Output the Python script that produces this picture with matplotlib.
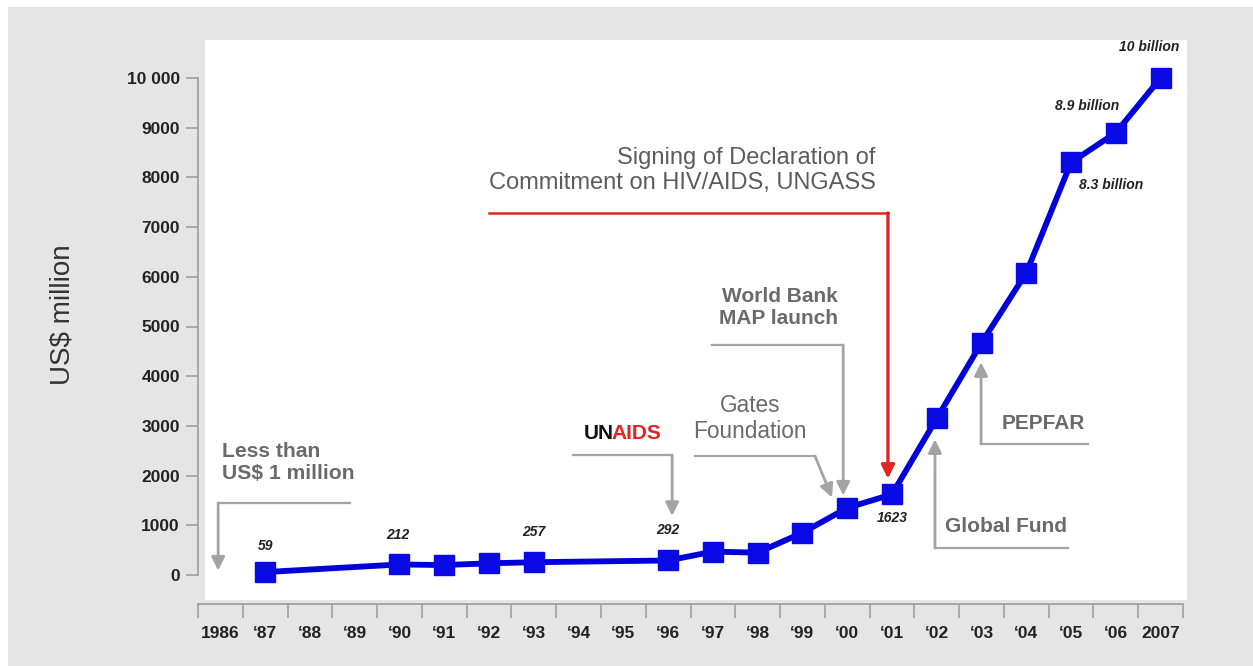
import matplotlib
matplotlib.use("Agg")
import matplotlib.pyplot as plt
from matplotlib.patches import Rectangle

plt.rcParams['font.family'] = ['Liberation Sans', 'DejaVu Sans']

# funding per year (US$ million)
years = [1987, 1990, 1991, 1992, 1993, 1996, 1997, 1998, 1999, 2000,
         2001, 2002, 2003, 2004, 2005, 2006, 2007]
funding = [59, 212, 200, 235, 257, 292, 470, 450, 850, 1350,
           1623, 3150, 4670, 6080, 8300, 8900, 10000]

axis_years = list(range(1986, 2008))
year_labels = ['1986'] + ['\u2018%02d' % (y % 100) for y in axis_years[1:-1]] + ['2007']
y_ticks = [0, 1000, 2000, 3000, 4000, 5000, 6000, 7000, 8000, 9000, 10000]
y_tick_labels = ['0', '1000', '2000', '3000', '4000', '5000', '6000', '7000',
                 '8000', '9000', '10 000']

# point labels: year, text, offset in points
point_labels = [
    (1987, '59', (0, 19)),
    (1990, '212', (-1, 21)),
    (1993, '257', (0, 22)),
    (1996, '292', (0, 22)),
    (2001, '1623', (0, -17)),
    (2005, '8.3 billion', (29, -16)),
    (2006, '8.9 billion', (-21, 19)),
    (2007, '10 billion', (-8, 22)),
]

W, H = 1253, 666
fig = plt.figure(figsize=(W / 100, H / 100), dpi=100)
fig.patch.set_facecolor('white')


def px_rect(x0, y0, x1, y1, color):
    fig.patches.append(Rectangle((x0 / W, 1 - y1 / H), (x1 - x0) / W, (y1 - y0) / H,
                                 transform=fig.transFigure, facecolor=color,
                                 edgecolor='none', zorder=-10))


px_rect(8, 7, W, H, '#e5e5e5')
px_rect(205, 40, 1187, 600, 'white')

# axes: left spine at x=198px, bottom at y=604px
ax = fig.add_axes([198 / W, (H - 604) / H, 985 / W, (604 - 40) / H])
ax.set_facecolor('none')
ax.set_xlim(0, 22)
ax.set_ylim(-(604 - 575) / 0.0497, (575 - 40) / 0.0497)

for s in ['top', 'right']:
    ax.spines[s].set_visible(False)
ax.spines['left'].set_bounds(0, 10000)
ax.spines['left'].set_color('#a0a0a0')
ax.spines['bottom'].set_color('#a0a0a0')
ax.spines['left'].set_linewidth(1.3)
ax.spines['bottom'].set_linewidth(1.3)

ax.set_yticks(y_ticks)
ax.set_yticklabels(y_tick_labels, fontsize=12.5, fontweight='bold', color='#222222')
ax.tick_params(axis='y', length=9, width=1.2, color='#a0a0a0', pad=4)

ax.set_xticks(range(0, 23))
ax.set_xticklabels([])
ax.tick_params(axis='x', which='major', length=10, width=1.2, color='#a0a0a0')
ax.set_xticks([i + 0.5 for i in range(22)], minor=True)
ax.set_xticklabels(year_labels, minor=True, fontsize=12.5, fontweight='bold', color='#222222')
ax.tick_params(axis='x', which='minor', length=0, pad=16)

xs = [y - 1986 + 0.5 for y in years]
ax.plot(xs, funding, color='#0000d8', lw=4.2, marker='s', markersize=14,
        markerfacecolor='#0a0ae6', markeredgecolor='#0a0ae6', zorder=5, clip_on=False)

for yr, txt, off in point_labels:
    v = funding[years.index(yr)]
    ax.annotate(txt, (yr - 1986 + 0.5, v), xytext=off, textcoords='offset points',
                ha='center', va='center', fontsize=10, fontweight='bold',
                style='italic', color='#222222')

gray_txt = '#6a6a6a'
gray_ln = '#a3a3a3'
red = '#e32222'


def arrow(start, end, color=gray_ln, lw=2.0):
    ax.annotate('', xy=end, xytext=start,
                arrowprops=dict(arrowstyle='-|>', color=color, lw=lw, shrinkA=0, shrinkB=0,
                                mutation_scale=20),
                annotation_clip=False)


# Less than US$ 1 million
ax.text(0.54, 2264, 'Less than\nUS$ 1 million', ha='left', va='center', fontsize=15.2,
        fontweight='bold', color=gray_txt, linespacing=1.2)
ax.plot([0.45, 3.39], [1449, 1449], color=gray_ln, lw=1.6, clip_on=False)
arrow((0.45, 1449), (0.45, 90))

# UNAIDS
ax.text(9.28, 2857, 'UN', ha='right', va='center', fontsize=15, fontweight='bold', color='#111111')
ax.text(9.23, 2857, 'AIDS', ha='left', va='center', fontsize=15, fontweight='bold', color=red)
ax.plot([8.38, 10.59], [2414, 2414], color=gray_ln, lw=1.6)
arrow((10.59, 2414), (10.59, 1190))

# Gates Foundation
ax.text(12.33, 3149, 'Gates\nFoundation', ha='center', va='center', fontsize=16.3,
        color=gray_txt, linespacing=1.15)
ax.plot([11.1, 13.78], [2394, 2394], color=gray_ln, lw=1.6)
arrow((13.78, 2394), (14.16, 1560))

# World Bank MAP launch
ax.text(14.3, 5382, 'World Bank\nMAP launch', ha='right', va='center', fontsize=15,
        fontweight='bold', color=gray_txt, linespacing=1.2)
ax.plot([11.48, 14.41], [4628, 4628], color=gray_ln, lw=1.6)
arrow((14.41, 4628), (14.41, 1600))

# UNGASS declaration
ax.text(15.14, 8139, 'Signing of Declaration of\nCommitment on HIV/AIDS, UNGASS', ha='right',
        va='center', fontsize=17, color='#5c5c5c', linespacing=1.15)
ax.plot([6.5, 15.41], [7284, 7284], color=red, lw=1.8)
arrow((15.41, 7284), (15.41, 1940), color=red, lw=2.4)

# Global Fund
ax.text(16.69, 966, 'Global Fund', ha='left', va='center', fontsize=15,
        fontweight='bold', color=gray_txt)
ax.plot([16.46, 19.43], [543, 543], color=gray_ln, lw=1.6)
arrow((16.46, 543), (16.46, 2730))

# PEPFAR
ax.text(17.96, 3058, 'PEPFAR', ha='left', va='center', fontsize=15,
        fontweight='bold', color=gray_txt)
ax.plot([17.49, 19.88], [2636, 2636], color=gray_ln, lw=1.6)
arrow((17.49, 2636), (17.49, 4280))

fig.text(62 / W, 1 - 315 / H, 'US$ million', rotation=90, ha='center', va='center',
         fontsize=20, color='#333333')

fig.savefig('out.png', dpi=100)
